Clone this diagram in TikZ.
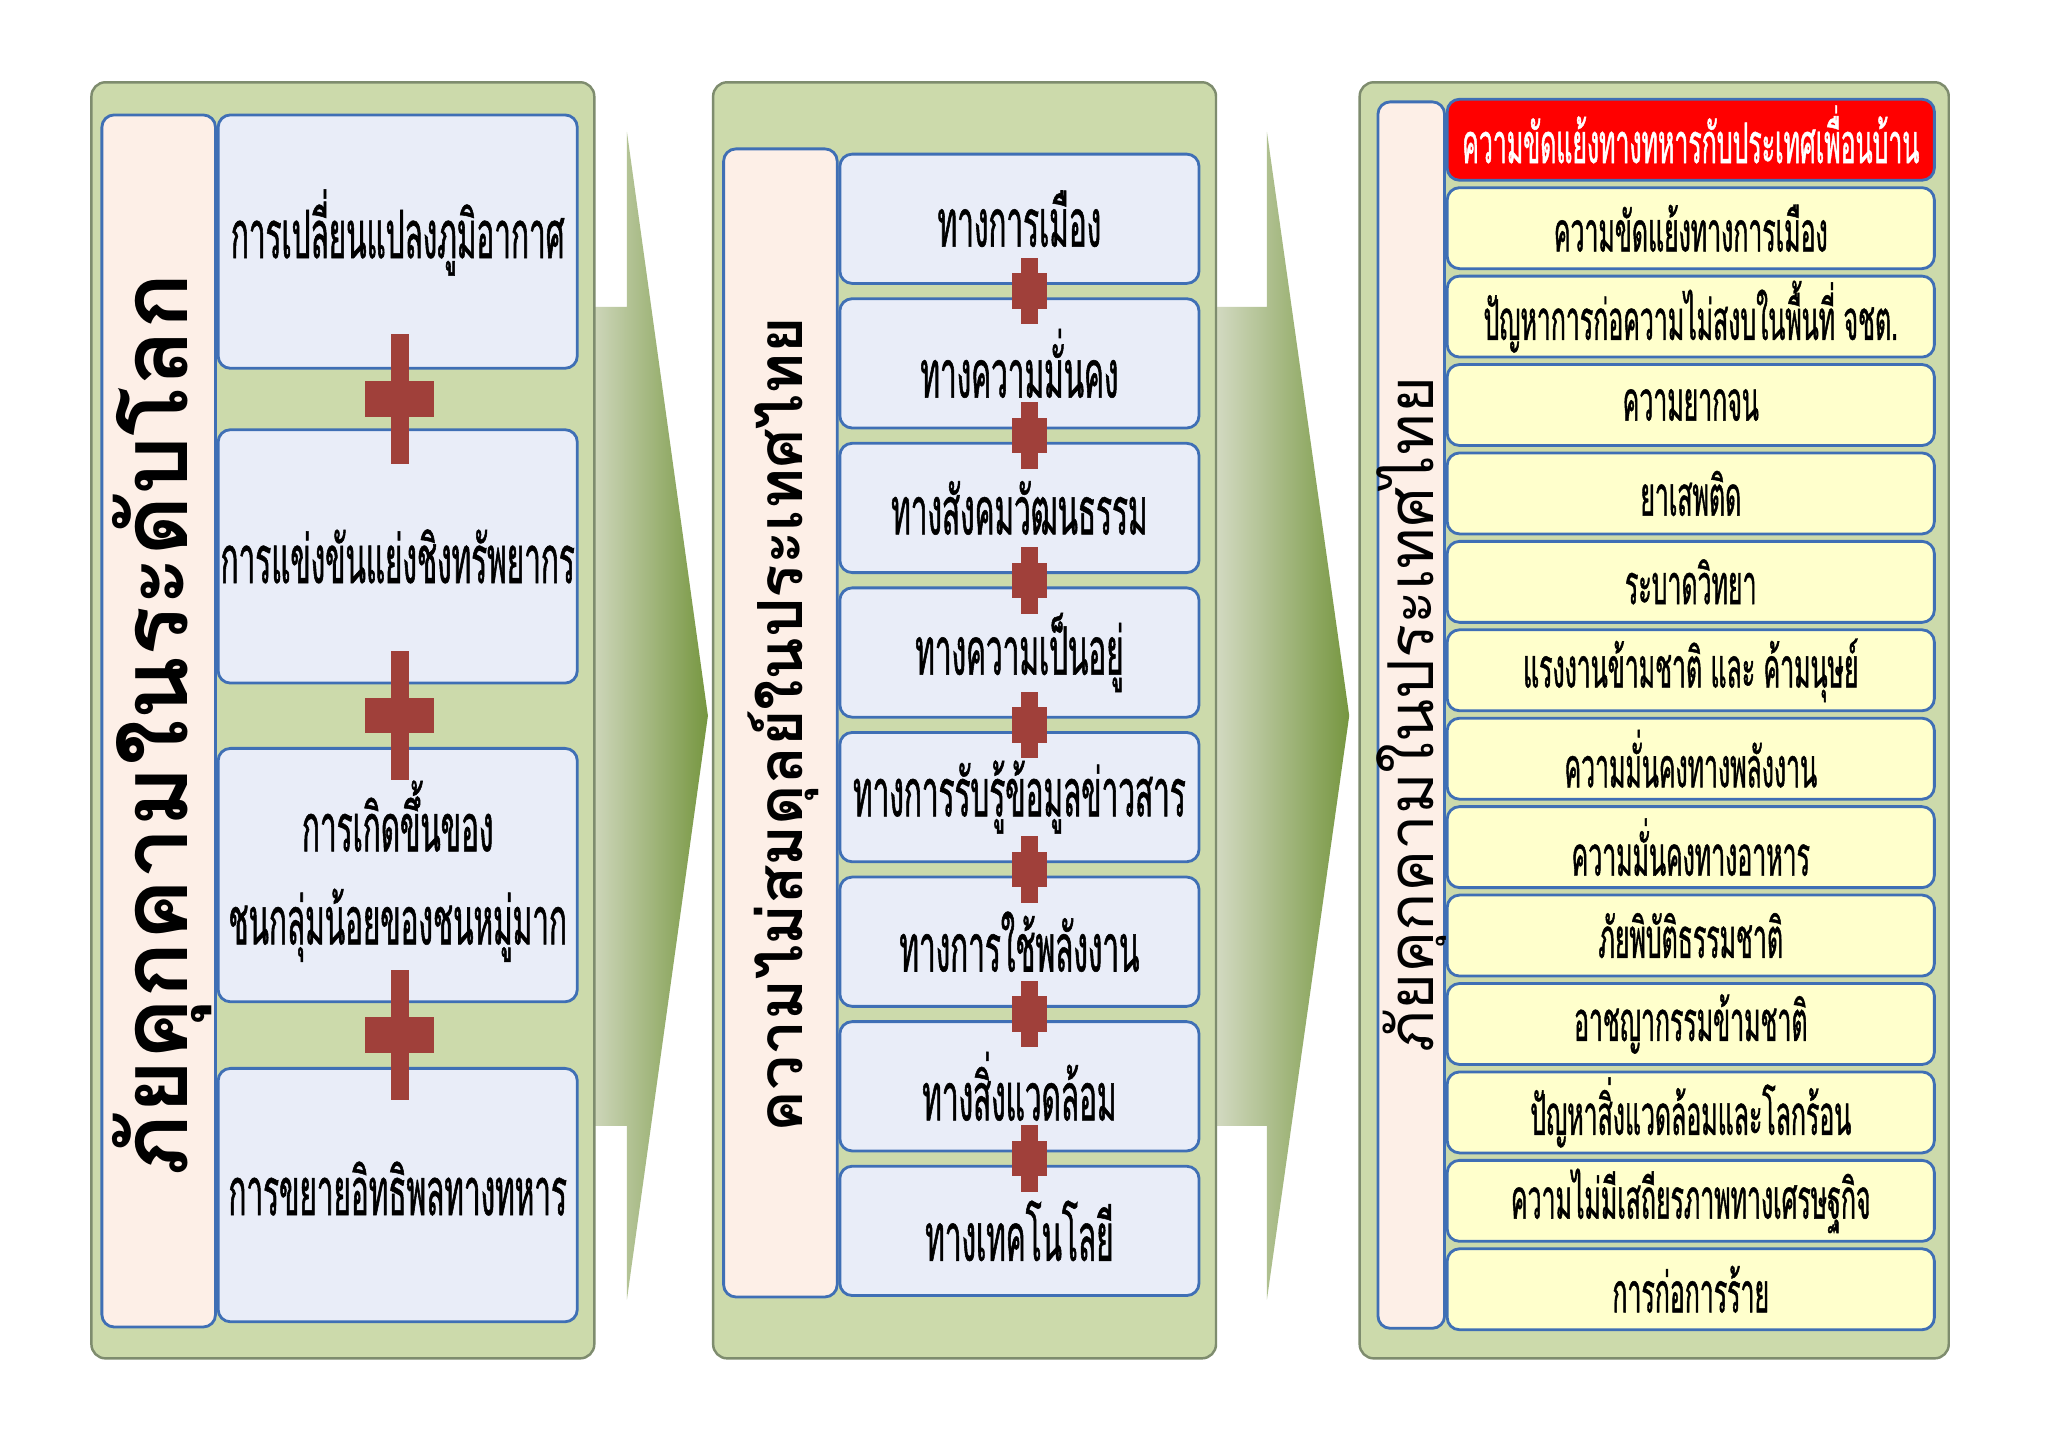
\documentclass[tikz,border=0pt]{standalone}
\usepackage{fontspec}
\newfontfamily\thaiC[Script=Thai,FakeStretch=0.445,FakeBold=0.8]{Loma}
\newfontfamily\thaiT[Script=Thai]{Loma}
\definecolor{panelg}{HTML}{CCDAAB}
\definecolor{panelb}{HTML}{7E8C6E}
\definecolor{stripc}{HTML}{FDEFE7}
\definecolor{boxb}{HTML}{3F6FB5}
\definecolor{bluec}{HTML}{E9EDF8}
\definecolor{yellc}{HTML}{FFFFCC}
\definecolor{crossc}{HTML}{A0403A}
\definecolor{arrL}{HTML}{E6E8DC}
\definecolor{arrR}{HTML}{769640}
\def\uu{0.3716pt}
\tikzset{
  panel/.style={draw=panelb, fill=panelg, rounded corners=4pt, line width=0.7pt, inner sep=0pt},
  strip/.style={draw=boxb, fill=stripc, rounded corners=3.5pt, line width=0.8pt, inner sep=0pt},
  bluebox/.style={draw=boxb, fill=bluec, rounded corners=3.5pt, line width=0.8pt, inner sep=0pt,
    minimum width=275*\uu, align=center, font=\thaiC\fontsize{19}{26.5}\selectfont},
  ltext/.style={inner sep=0pt, align=center, font=\thaiC\fontsize{19}{26.5}\selectfont},
  yellbox/.style={draw=boxb, fill=yellc, rounded corners=3.5pt, line width=0.8pt, inner sep=0pt,
    minimum width=373*\uu, minimum height=62*\uu, font=\thaiC\fontsize{15.9}{20}\selectfont},
  redbox/.style={draw=boxb, fill=red, rounded corners=3.5pt, line width=0.8pt, inner sep=0pt,
    minimum width=373*\uu, minimum height=62*\uu},
  redtext/.style={inner sep=0pt, text=white, font=\thaiC\fontsize{15.9}{20}\selectfont},
  titlebig/.style={rotate=90, font=\thaiT\bfseries\fontsize{26.5}{30}\selectfont},
  titlemid/.style={rotate=90, font=\thaiT\bfseries\fontsize{17.7}{21}\selectfont},
  titlesmall/.style={rotate=90, font=\thaiT\fontsize{18}{21}\selectfont},
}
\newcommand\redplus[6]{%
  \fill[crossc] ({#1-#3/2},{#2-#4/2}) rectangle ({#1+#3/2},{#2+#4/2});
  \fill[crossc] ({#1-#5/2},{#2-#6/2}) rectangle ({#1+#5/2},{#2+#6/2});}
\begin{document}
\begin{tikzpicture}[x=0.3716pt,y=-0.3716pt]
\fill[white] (0,0) rectangle (1568,1108.6);
\useasboundingbox (0,0) rectangle (1568,1108.6);
% arrows between panels
\shade[left color=arrL, right color=arrR] (430,235) -- (480,235) -- (480,101) -- (542,548) -- (480,995) -- (480,862) -- (430,862) -- cycle;
\shade[left color=arrL, right color=arrR] (910,235) -- (970,235) -- (970,101) -- (1033,548) -- (970,995) -- (970,862) -- (910,862) -- cycle;
% panels
\node[panel, minimum width=385*\uu, minimum height=977*\uu] (P1) at (262.5,551.5) {};
\node[panel, minimum width=385*\uu, minimum height=977*\uu] (P2) at (738.5,551.5) {};
\node[panel, minimum width=451*\uu, minimum height=977*\uu] (P3) at (1266.5,551.5) {};
% strips
\node[strip, minimum width=87*\uu, minimum height=928*\uu] (S1) at (121.5,552) {};
\node[strip, minimum width=87*\uu, minimum height=879*\uu] (S2) at (597.5,553.5) {};
\node[strip, minimum width=51*\uu, minimum height=939*\uu] (S3) at (1080.5,547.5) {};
\node[titlebig] (T1) at (124,555) {ภัยคุกคามในระดับโลก};
\node[titlemid] (T2) at (600,555) {ความไม่สมดุลย์ในประเทศไทย};
\node[titlesmall] (T3) at (1082,547) {ภัยคุกคามในประเทศไทย};
% left boxes
\node[bluebox, minimum height=194*\uu] (L1) at (304.5,185) {};
\node[bluebox, minimum height=194*\uu] (L2) at (304.5,426) {};
\node[bluebox, minimum height=194*\uu] (L3) at (304.5,670) {};
\node[bluebox, minimum height=194*\uu] (L4) at (304.5,915) {};
\node[ltext] (L1t) at ([yshift=7*\uu]L1.center) {การเปลี่ยนแปลงภูมิอากาศ};
\node[ltext] (L2t) at (L2.center) {การแข่งขันแย่งชิงทรัพยากร};
\node[ltext] (L3t) at ([yshift=3*\uu]L3.center) {การเกิดขึ้นของ\\ชนกลุ่มน้อยของชนหมู่มาก};
\node[ltext] (L4t) at ([yshift=5*\uu]L4.center) {การขยายอิทธิพลทางทหาร};
\redplus{306}{305.5}{53}{27}{14}{99}
\redplus{306}{548}{53}{27}{14}{99}
\redplus{306}{792.5}{53}{27}{14}{99}
% middle boxes
\foreach \t [count=\i from 0] in {ทางการเมือง,ทางความมั่นคง,ทางสังคมวัฒนธรรม,ทางความเป็นอยู่,ทางการรับรู้ข้อมูลข่าวสาร,ทางการใช้พลังงาน,ทางสิ่งแวดล้อม,ทางเทคโนโลยี}
  {\node[bluebox, minimum height=99*\uu] (M\i) at (780.5,{167.5+110.7*\i}) {\t};}
\foreach \i in {0,...,6} {\redplus{788}{222.9+110.7*\i}{27}{27}{13}{51}}
% right boxes
\node[redbox] (R0) at (1294.5,107) {};
\node[redtext] (R0t) at ([yshift=4*\uu]R0.center) {ความขัดแย้งทางทหารกับประเทศเพื่อนบ้าน};
\foreach \t [count=\i from 1] in {ความขัดแย้งทางการเมือง,ปัญหาการก่อความไม่สงบในพื้นที่ จชต.,ความยากจน,ยาเสพติด,ระบาดวิทยา,แรงงานข้ามชาติ และ ค้ามนุษย์,ความมั่นคงทางพลังงาน,ความมั่นคงทางอาหาร,ภัยพิบัติธรรมชาติ,อาชญากรรมข้ามชาติ,ปัญหาสิ่งแวดล้อมและโลกร้อน,ความไม่มีเสถียรภาพทางเศรษฐกิจ,การก่อการร้าย}
  {\node[yellbox] (R\i) at (1294.5,{107+67.7*\i}) {\t};}
\end{tikzpicture}
\end{document}
